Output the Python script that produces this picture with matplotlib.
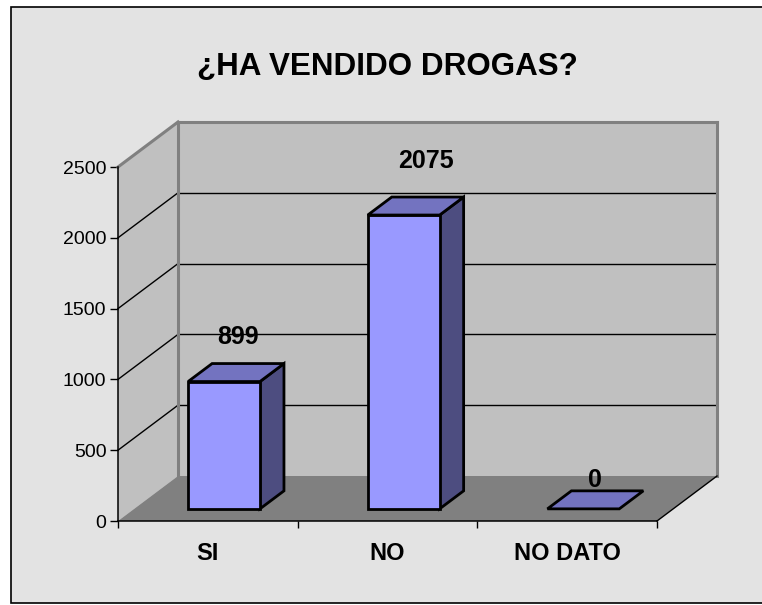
import matplotlib
matplotlib.use('Agg')
import matplotlib.pyplot as plt
from matplotlib.patches import Polygon, Rectangle
from matplotlib.transforms import IdentityTransform

categorias = ['SI', 'NO', 'NO DATO']
valores = [899, 2075, 0]
yticks = [0, 500, 1000, 1500, 2000, 2500]
titulo = '¿HA VENDIDO DROGAS?'

plt.rcParams['font.family'] = ['Liberation Sans', 'DejaVu Sans']

W, H = 762, 605
fig = plt.figure(figsize=(W / 100, H / 100), dpi=100)
fig.patch.set_facecolor('white')

# marco exterior con fondo gris claro
fig.patches.append(Rectangle((11 / W, 2 / H), 1.0, (H - 7 - 2) / H,
                             transform=fig.transFigure, facecolor='#E3E3E3',
                             edgecolor='black', lw=1.2, zorder=-5))

# plano frontal del grafico (pixeles)
x0, x1, y0, y1 = 118, 657, 521, 167
ax = fig.add_axes([x0 / W, (H - y0) / H, (x1 - x0) / W, (y0 - y1) / H])
ax.set_xlim(-0.5, 2.5)
ax.set_ylim(0, 2500)
ax.patch.set_visible(False)

DX, DY = 60, 45  # profundidad total en pixeles


def proj(x, y, t):
    px, py = ax.transData.transform((x, y))
    return (px + DX * t, py + DY * t)


def poly(pts, **kw):
    p = Polygon(pts, closed=True, transform=IdentityTransform(), clip_on=False, **kw)
    ax.add_patch(p)


ymax = yticks[-1]
# paredes y suelo
poly([proj(-0.5, 0, 1), proj(2.5, 0, 1), proj(2.5, ymax, 1), proj(-0.5, ymax, 1)],
     facecolor='#C0C0C0', edgecolor='none', zorder=1)
poly([proj(-0.5, 0, 0), proj(-0.5, 0, 1), proj(-0.5, ymax, 1), proj(-0.5, ymax, 0)],
     facecolor='#C0C0C0', edgecolor='none', zorder=1)
poly([proj(-0.5, 0, 0), proj(2.5, 0, 0), proj(2.5, 0, 1), proj(-0.5, 0, 1)],
     facecolor='#808080', edgecolor='none', zorder=1)

# lineas de division
for v in yticks[1:-1]:
    for a, b in [((-0.5, v, 0), (-0.5, v, 1)), ((-0.5, v, 1), (2.5, v, 1))]:
        pa, pb = proj(*a), proj(*b)
        ax.add_line(plt.Line2D([pa[0], pb[0]], [pa[1], pb[1]], color='black', lw=1,
                               transform=IdentityTransform(), clip_on=False, zorder=2))

# bordes grises de las paredes
for a, b in [((-0.5, 0, 1), (-0.5, ymax, 1)), ((-0.5, ymax, 1), (2.5, ymax, 1)),
             ((2.5, ymax, 1), (2.5, 0, 1)), ((-0.5, ymax, 0), (-0.5, ymax, 1))]:
    pa, pb = proj(*a), proj(*b)
    ax.add_line(plt.Line2D([pa[0], pb[0]], [pa[1], pb[1]], color='#808080', lw=2.2,
                           transform=IdentityTransform(), clip_on=False, zorder=2))
pa, pb = proj(2.5, 0, 0), proj(2.5, 0, 1)
ax.add_line(plt.Line2D([pa[0], pb[0]], [pa[1], pb[1]], color='black', lw=1,
                       transform=IdentityTransform(), clip_on=False, zorder=2))

# barras 3D
ancho = 0.4
t0, t1 = 0.27, 0.67
for i, v in enumerate(valores):
    xa, xb = i - ancho / 2, i + ancho / 2
    kw = dict(edgecolor='black', lw=2, joinstyle='miter', zorder=3)
    if v > 0:
        poly([proj(xb, 0, t0), proj(xb, 0, t1), proj(xb, v, t1), proj(xb, v, t0)],
             facecolor='#4D4D80', **kw)
        poly([proj(xa, 0, t0), proj(xb, 0, t0), proj(xb, v, t0), proj(xa, v, t0)],
             facecolor='#9999FF', **kw)
    poly([proj(xa, v, t0), proj(xb, v, t0), proj(xb, v, t1), proj(xa, v, t1)],
         facecolor='#7373C0', **kw)

# etiquetas de valor
desplaz = [(30, 50), (38, 59), (28, 34)]
for i, v in enumerate(valores):
    dx, dy = desplaz[i]
    ax.annotate(str(v), xy=(i, v), xytext=(dx * 0.72, dy * 0.72),
                textcoords='offset points', ha='center', va='baseline',
                fontsize=18, fontweight='bold', zorder=5, annotation_clip=False)

# ejes
for s in ['top', 'right']:
    ax.spines[s].set_visible(False)
for s in ['left', 'bottom']:
    ax.spines[s].set_linewidth(1.1)
    ax.spines[s].set_zorder(4)
ax.set_yticks(yticks)
ax.set_yticklabels([str(v) for v in yticks], fontsize=14)
ax.tick_params(axis='y', direction='out', length=5.8, width=1, pad=2.5)
ax.set_xticks(range(len(categorias)))
ax.set_xticklabels(categorias, fontsize=17, fontweight='bold')
ax.set_xticks([-0.5, 0.5, 1.5, 2.5], minor=True)
ax.tick_params(axis='x', which='major', length=0, pad=15)
ax.tick_params(axis='x', which='minor', direction='out', length=5, width=1)

fig.text(387.5 / W, 1 - 74.5 / H, titulo, ha='center', va='baseline',
         fontsize=22.6, fontweight='bold')

fig.savefig('out.png', dpi=100)
